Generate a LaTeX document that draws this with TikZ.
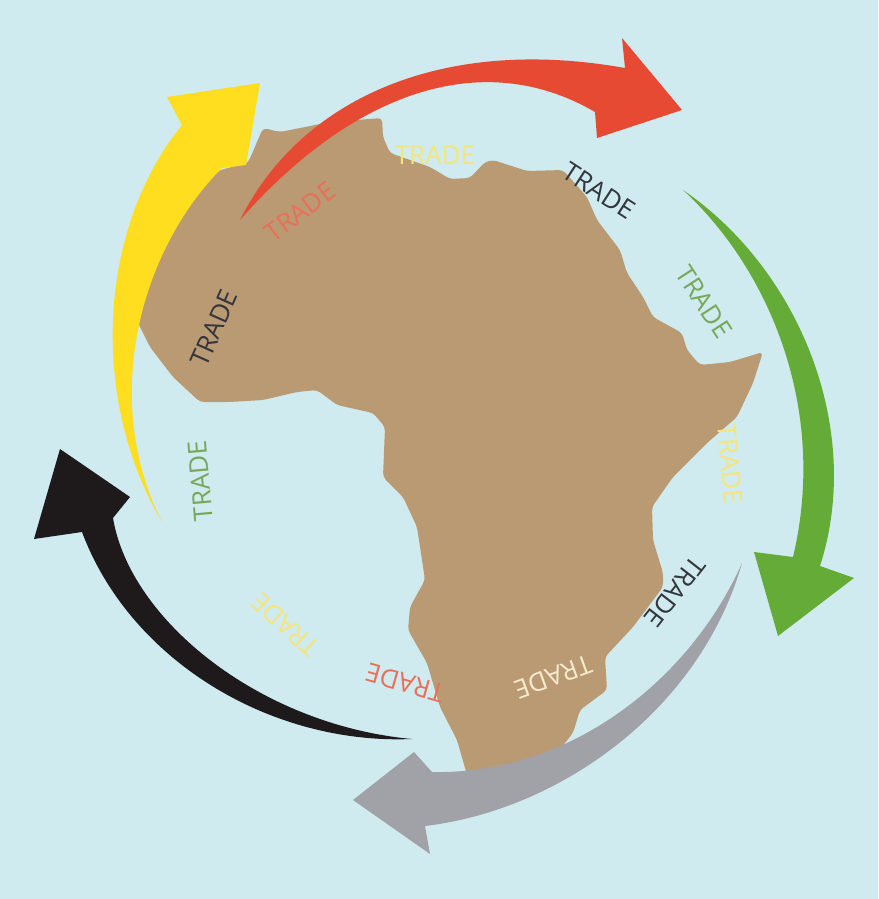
\documentclass[tikz,border=0pt]{standalone}
\usepackage{fontspec}
\setmainfont{Open Sans}
\definecolor{seablue}{HTML}{CFEBEF}
\definecolor{landbrown}{HTML}{BA9A72}
\definecolor{arrowred}{HTML}{E74A33}
\definecolor{arrowyellow}{HTML}{FFDD1F}
\definecolor{arrowgreen}{HTML}{65AB37}
\definecolor{arrowblack}{HTML}{1E1A1C}
\definecolor{arrowgray}{HTML}{A0A2A8}
\definecolor{textred}{HTML}{E8705A}
\definecolor{textyellow}{HTML}{F5E57A}
\definecolor{textgreen}{HTML}{77A85A}
\definecolor{textdark}{HTML}{33363C}
\definecolor{textpale}{HTML}{F6EBCF}
\tikzset{tradelabel/.style={inner sep=0pt,font=\fontsize{26}{26}\selectfont}}
\begin{document}
\begin{tikzpicture}[x=1pt,y=-1pt]
\useasboundingbox (0,0) rectangle (878,899);
\fill[seablue] (0,0) rectangle (878,899);
\fill[landbrown,rounded corners=4pt] (263,128) -- (280,132) -- (330,122) -- (382,118) -- (383,137) -- (390,153) -- (430,167) -- (450,179) -- (470,178) -- (485,162) -- (493,160) -- (527,171) -- (563,170) -- (587,197) -- (597,220) -- (620,250) -- (627,273) -- (643,297) -- (653,317) -- (682,333) -- (687,350) -- (700,365) -- (730,362) -- (763,352) -- (753,383) -- (737,417) -- (707,443) -- (673,477) -- (652,507) -- (653,540) -- (663,573) -- (663,587) -- (633,627) -- (605,657) -- (607,690) -- (580,710) -- (573,733) -- (557,753) -- (520,775) -- (467,775) -- (457,740) -- (440,707) -- (427,663) -- (408,630) -- (410,607) -- (425,580) -- (417,527) -- (403,497) -- (383,477) -- (385,427) -- (373,413) -- (337,405) -- (317,390) -- (297,392) -- (263,400) -- (230,402) -- (200,402) -- (173,377) -- (150,347) -- (138,323) -- (145,290) -- (150,267) -- (167,233) -- (197,190) -- (220,170) -- (248,163) -- cycle;
\fill[arrowyellow] (162,522) .. controls (90,400) and (97,230) .. (182,125) -- (167,97) -- (260,83) -- (246,165) -- (222,168) .. controls (140,250) and (100,400) .. (162,522) -- cycle;
\fill[arrowred] (240,220) .. controls (300,100) and (440,35) .. (625,68) -- (622,38) -- (682,110) -- (597,138) -- (595,112) .. controls (480,45) and (350,95) .. (240,220) -- cycle;
\fill[arrowgreen] (683,190) .. controls (770,270) and (828,410) .. (793,557) -- (754,552) -- (778,636) -- (854,578) -- (820,566) .. controls (864,430) and (800,270) .. (683,190) -- cycle;
\fill[arrowgray] (742,563) .. controls (690,680) and (570,775) .. (432,772) -- (414,752) -- (353,800) -- (430,854) -- (425,826) .. controls (560,810) and (700,710) .. (742,563) -- cycle;
\fill[arrowblack] (412,739) .. controls (270,745) and (130,660) .. (82,532) -- (34,539) -- (60,449) -- (130,497) -- (113,518) .. controls (130,620) and (260,725) .. (412,739) -- cycle;
\node[tradelabel,text=textred,rotate=37] (tradered) at (300,212) {TRADE};
\node[tradelabel,text=textyellow] (tradetop) at (435,155) {TRADE};
\node[tradelabel,text=textdark,rotate=-33] (tradenorth) at (599,191) {TRADE};
\node[tradelabel,text=textgreen,rotate=-57] (tradegreen) at (704,302) {TRADE};
\node[tradelabel,text=textyellow,rotate=-85] (tradeeast) at (730,464) {TRADE};
\node[tradelabel,text=textdark,rotate=-128] (tradesouth) at (675,592) {TRADE};
\node[tradelabel,text=textpale,rotate=-160] (tradecape) at (553,677) {TRADE};
\node[tradelabel,text=textred,rotate=164] (tradewest) at (405,683) {TRADE};
\node[tradelabel,text=textyellow,rotate=138] (tradeocean) at (285,625) {TRADE};
\node[tradelabel,text=textgreen,rotate=95] (tradeleft) at (200,481) {TRADE};
\node[tradelabel,text=textdark,rotate=66] (tradebulge) at (214,328) {TRADE};
\end{tikzpicture}
\end{document}
